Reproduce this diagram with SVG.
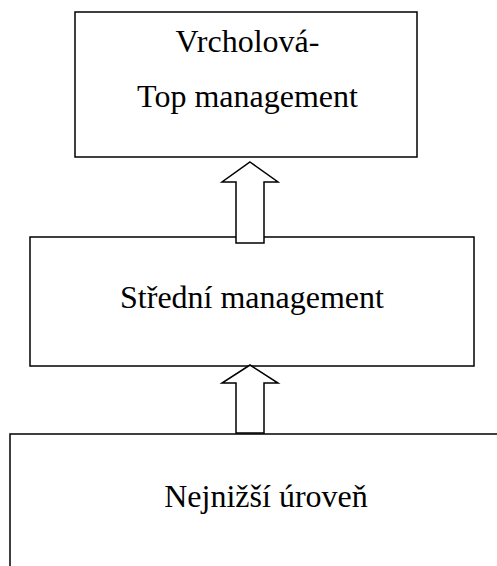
<svg xmlns="http://www.w3.org/2000/svg" width="497" height="566" viewBox="0 0 497 566">
<style>
.box{fill:#fff;stroke:#000;stroke-width:1.5}
.arr{fill:#fff;stroke:#000;stroke-width:1.5;stroke-linejoin:miter}
text{font-family:"Liberation Serif","Times New Roman",serif;font-size:32px;fill:#000;text-anchor:middle}
</style>
<rect width="497" height="566" fill="#fff"/>
<g id="top">
<rect class="box" x="75" y="12" width="342" height="145"/>
<text x="247.5" y="52">Vrcholová-</text>
<text x="247.5" y="107">Top management</text>
</g>
<g id="middle">
<rect class="box" x="30" y="237" width="444" height="129"/>
<text x="252" y="308">Střední management</text>
</g>
<g id="bottom">
<path class="box" d="M10,600 V434 H510"/>
<text x="266" y="507">Nejnižší úroveň</text>
</g>
<g id="connectors">
<path class="arr" d="M250,162 L278,182 L264,182 L264,243 L236,243 L236,182 L222,182 Z"/>
<path class="arr" d="M250,365 L278,383 L264,383 L264,433 L236,433 L236,383 L222,383 Z"/>
</g>
</svg>
